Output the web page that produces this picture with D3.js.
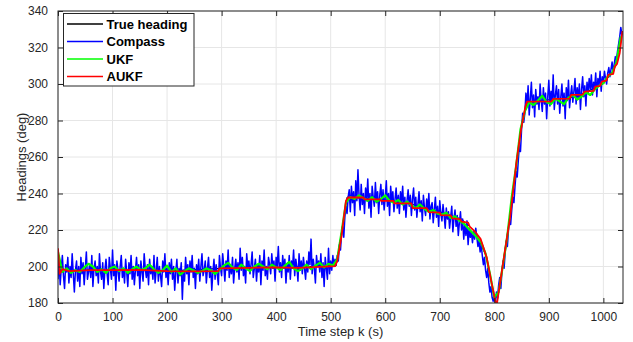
<!DOCTYPE html>
<html>
<head>
<meta charset="utf-8">
<script src="https://cdn.jsdelivr.net/npm/d3@7.9.0/dist/d3.min.js"></script>
<style>
  body { margin: 0; background: #fff; }
  svg { display: block; font-family: "Liberation Sans", Arial, sans-serif; }
</style>
</head>
<body>
<svg width="633" height="342"></svg>
<script>
// x ticks and y ticks
const xTicks = [0, 100, 200, 300, 400, 500, 600, 700, 800, 900, 1000];
const yTicks = [180, 200, 220, 240, 260, 280, 300, 320, 340];

// true heading (time step, deg)
const trueSteps = [0, 100, 200, 300, 400, 510, 530, 600, 650, 700, 740, 765, 786, 795, 804, 817, 829, 841, 850, 860, 950, 1000, 1020, 1035];
const trueValues = [198, 198, 197.5, 199, 199.5, 200.3, 238, 236.5, 234, 230, 226, 219, 205, 191, 178, 204, 228, 258, 278, 290, 293, 300, 308, 329];

// compass readings, one every 2 steps
const compassStep = 2;
const compass = [
  193,204,190,199,206,195,188,201,197,205,191,200,194,207,196,
  186,198,203,192,200,189,205,196,202,190,199,208,193,197,201,
  194,206,189,199,203,195,200,191,207,197,193,202,188,198,204,
  196,190,205,199,193,209,195,201,187,203,198,192,200,206,194,
  199,191,204,197,189,202,196,206,193,200,190,198,205,195,201,
  188,203,197,192,207,199,194,201,190,204,196,200,193,206,191,
  198,205,192,200,195,189,203,197,207,194,199,190,202,196,204,
  193,200,187,197,204,191,199,195,202,182,198,192,205,196,201,
  190,203,197,206,194,199,188,201,196,204,192,200,207,195,198,
  203,191,199,205,194,200,187,197,204,193,201,196,190,206,199,
  195,207,200,192,203,198,209,194,201,196,205,191,199,204,197,
  202,193,210,198,205,195,200,191,207,199,203,196,201,208,194,
  199,204,192,201,197,206,190,203,198,209,195,200,193,205,201,
  196,207,199,203,192,205,200,211,197,202,194,206,199,204,191,
  201,197,206,193,203,199,209,195,204,200,192,207,198,203,196,
  205,199,193,203,197,208,201,215,196,204,199,191,206,200,203,
  197,207,194,202,189,205,199,193,210,196,203,198,206,200,204,
  201,206,203,212,209,218,222,216,227,233,229,238,242,
  230,244,235,241,228,247,236,253,239,231,245,234,240,229,243,
  236,248,232,240,227,244,238,233,246,235,241,229,239,245,234,
  242,231,238,247,233,240,228,244,236,241,230,237,243,232,239,
  229,241,235,244,231,238,227,236,242,233,239,228,237,243,231,
  238,227,234,241,230,236,225,239,232,228,237,231,240,226,233,
  235,224,231,238,227,233,222,236,229,225,234,228,221,232,226,
  230,221,227,233,219,226,231,222,228,217,224,230,220,226,215,
  223,217,225,212,221,216,219,213,
  219,215,221,216,211,214,208,212,206,201,205,198,194,199,191,186,189,183,181,184,
  180,186,183,190,194,188,197,203,199,208,214,211,220,226,223,231,238,235,244,252,249,258,266,263,275,284,279,
  284,295,288,299,283,292,301,287,294,282,297,289,293,286,300,
  291,285,298,289,295,281,293,302,288,296,290,305,286,294,299,
  289,297,284,293,300,288,295,281,298,291,302,287,294,299,290,
  296,303,289,298,292,300,286,297,304,293,299,288,301,295,303,
  297,305,294,301,298,306,293,303,299,307,296,304,301,
  307,303,300,306,309,304,308,312,306,311,315,313,318,322,326,331,327
];

// UKF estimate, one every 8 steps
const ukfStep = 8;
const ukf = [
  208,197,199,196.5,198,197,199.5,201.5,200,197,
  198.5,196.5,199,200,197.5,199,196.5,198.5,200,198,
  199,201,198.5,196.5,198,200.5,197,199,195.5,197.5,
  199,198,196.5,197.5,199,198,196,198,200.5,202,
  199.5,198,201,199,197.5,200,201.5,200,198.5,201,
  199.5,198,200.5,202.5,199,197.5,199,201,198.5,200.5,
  202,199.5,201.5,200.5,204,219,235,238,237,239,
  237.5,236,238,235.5,237,239,236,235,236.5,234,
  235.5,233.5,232,234,231.5,230,231,229,228.5,229.5,
  226.5,227.5,225,223.5,221,218.5,216,213,207,196,
  183,186,201,217,238,255,275,285,290,288.5,
  291,293.5,290,289,292,290.5,289,292.5,294,291.5,
  293,295.5,294,297,299,300.5,304,306,312,326
];

// AUKF estimate (time step, deg)
const aukfSteps = [0, 3, 8, 20, 60, 100, 150, 200, 245, 294, 296, 350, 400, 440, 480, 508, 512, 520, 528, 532,
  560, 562, 590, 592, 615, 617, 648, 650, 676, 680, 700, 702, 720, 723, 737, 740, 752, 755, 765, 775,
  786, 795, 804, 817, 829, 841, 849, 857, 860, 905, 908, 938, 941, 962, 965, 982, 985, 994, 997, 1006,
  1009, 1018, 1021, 1025, 1030, 1035];
const aukfValues = [210, 196, 198.5, 197.5, 198, 198, 198.2, 197.5, 197.3, 197.5, 199, 199.3, 199.5, 199.2, 199.8, 200.2, 203, 217, 236, 237.8,
  237.8, 236.8, 236.8, 236, 236, 234.6, 234.6, 232, 232, 229.8, 229.5, 228.2, 228, 226.4, 226, 224.6, 224, 221.8, 219, 215,
  205, 191, 178, 203.6, 227, 258, 275, 287.6, 290.3, 290.5, 291.8, 292, 294, 294.2, 295.8, 296.2, 298.5, 299, 301.3, 302,
  305, 305.5, 309.5, 311, 317, 329];

const legendNames = ["True heading", "Compass", "UKF", "AUKF"];
const legendColors = ["#000000", "#0000ff", "#00ff00", "#ff0000"];

const svg = d3.select("svg");
const L = 58, R = 623, T = 11, B = 303;
const x = d3.scaleLinear().domain([0, 1036]).range([L, R]);
const y = d3.scaleLinear().domain([180, 340]).range([B, T]);
const ink = "#262626";

// grid
svg.append("g").selectAll("line").data(xTicks).join("line")
  .attr("x1", d => x(d)).attr("x2", d => x(d)).attr("y1", T).attr("y2", B)
  .attr("stroke", "#e6e6e6");
svg.append("g").selectAll("line").data(yTicks).join("line")
  .attr("x1", L).attr("x2", R).attr("y1", d => y(d)).attr("y2", d => y(d))
  .attr("stroke", "#e6e6e6");

svg.append("clipPath").attr("id", "clip").append("rect")
  .attr("x", L).attr("y", T).attr("width", R - L).attr("height", B - T);

const plot = svg.append("g").attr("clip-path", "url(#clip)");
const line = d3.line().x(d => x(d[0])).y(d => y(d[1]));

const series = [
  { pts: trueSteps.map((k, i) => [k, trueValues[i]]), color: legendColors[0], w: 1 },
  { pts: compass.map((v, i) => [i * compassStep, v]), color: legendColors[1], w: 1.5 },
  { pts: ukf.map((v, i) => [i * ukfStep, v]), color: legendColors[2], w: 2.2 },
  { pts: aukfSteps.map((k, i) => [k, aukfValues[i]]), color: legendColors[3], w: 1.8 }
];
series.forEach(s => {
  plot.append("path").attr("d", line(s.pts)).attr("fill", "none")
    .attr("stroke", s.color).attr("stroke-width", s.w).attr("stroke-linejoin", "round");
});

// axes, MATLAB style with inward ticks on all sides
const tickLen = 5;
const xAxis = d3.axisBottom(x).tickValues(xTicks).tickFormat(d3.format("d"))
  .tickSizeInner(-tickLen).tickSizeOuter(0).tickPadding(9);
const yAxis = d3.axisLeft(y).tickValues(yTicks).tickSizeInner(-tickLen).tickSizeOuter(0).tickPadding(10);
const gx = svg.append("g").attr("transform", `translate(0,${B})`).call(xAxis);
const gy = svg.append("g").attr("transform", `translate(${L},0)`).call(yAxis);
svg.append("g").attr("transform", `translate(0,${T})`)
  .call(d3.axisTop(x).tickValues(xTicks).tickSizeInner(-tickLen).tickSizeOuter(0).tickFormat(""));
svg.append("g").attr("transform", `translate(${R},0)`)
  .call(d3.axisRight(y).tickValues(yTicks).tickSizeInner(-tickLen).tickSizeOuter(0).tickFormat(""));
svg.selectAll(".domain").remove();
svg.selectAll(".tick line").attr("stroke", ink);
[gx, gy].forEach(g => g.selectAll("text").attr("font-size", 12).attr("fill", ink)
  .attr("font-family", "'Liberation Sans', Arial, sans-serif"));

svg.append("rect").attr("x", L).attr("y", T).attr("width", R - L).attr("height", B - T)
  .attr("fill", "none").attr("stroke", ink).attr("stroke-width", 1);

svg.append("text").attr("x", (L + R) / 2).attr("y", 336).attr("text-anchor", "middle")
  .attr("font-size", 13).attr("fill", ink).text("Time step k (s)");
svg.append("text").attr("transform", `translate(25.5,${(T + B) / 2}) rotate(-90)`)
  .attr("text-anchor", "middle").attr("font-size", 13).attr("fill", ink).text("Headings (deg)");

// legend
const lg = svg.append("g");
lg.append("rect").attr("x", 63.5).attr("y", 13.5).attr("width", 130.5).attr("height", 72.5)
  .attr("fill", "#fff").attr("stroke", ink).attr("stroke-width", 1);
legendNames.forEach((name, i) => {
  const cy = 24 + i * 17.5;
  lg.append("line").attr("x1", 67).attr("x2", 103).attr("y1", cy).attr("y2", cy)
    .attr("stroke", legendColors[i]).attr("stroke-width", 1.5);
  lg.append("text").attr("x", 106.5).attr("y", cy + 4.5).attr("font-size", 13)
    .attr("font-weight", "bold").attr("fill", "#000").text(name);
});
</script>
</body>
</html>
